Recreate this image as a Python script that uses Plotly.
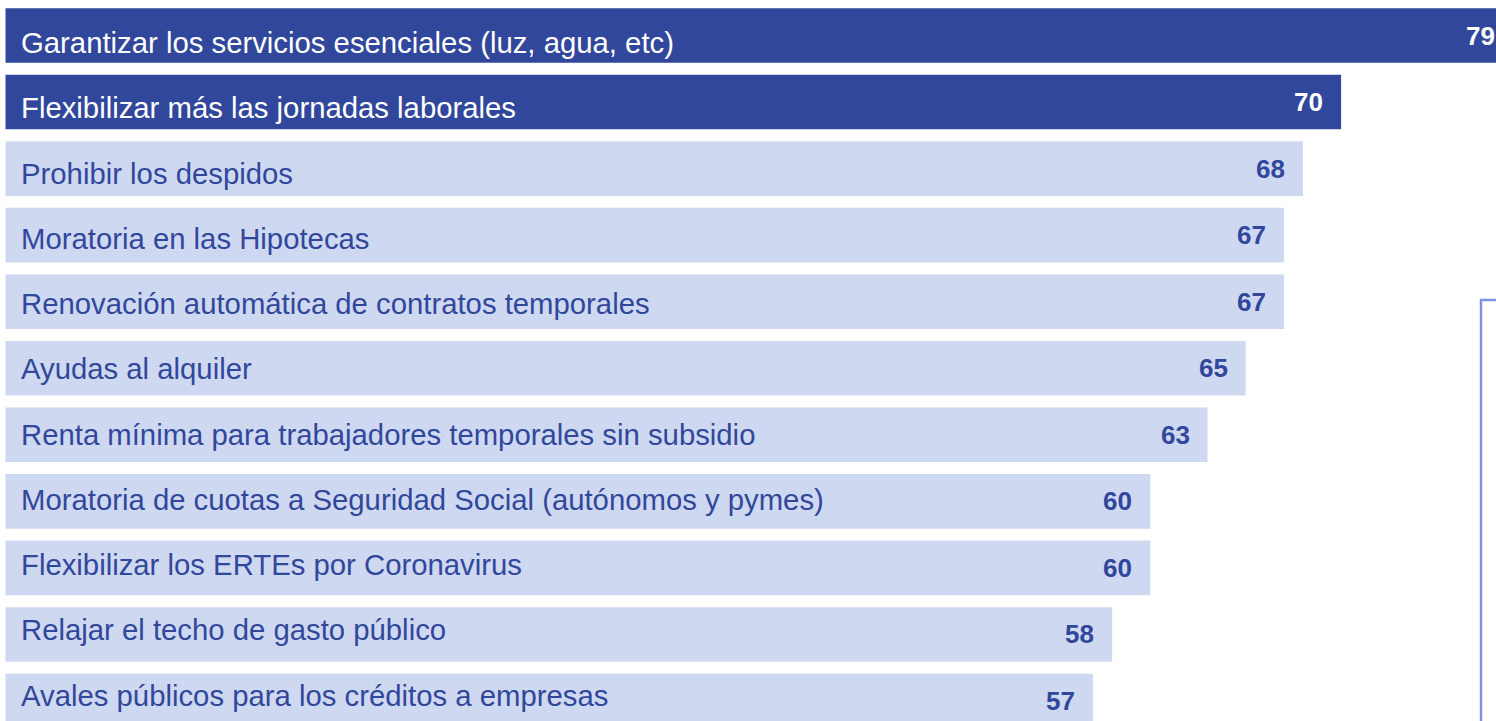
import plotly.graph_objects as go

categories = [
    "Garantizar los servicios esenciales (luz, agua, etc)",
    "Flexibilizar más las jornadas laborales",
    "Prohibir los despidos",
    "Moratoria en las Hipotecas",
    "Renovación automática de contratos temporales",
    "Ayudas al alquiler",
    "Renta mínima para trabajadores temporales sin subsidio",
    "Moratoria de cuotas a Seguridad Social (autónomos y pymes)",
    "Flexibilizar los ERTEs por Coronavirus",
    "Relajar el techo de gasto público",
    "Avales públicos para los créditos a empresas",
]
values = [79, 70, 68, 67, 67, 65, 63, 60, 60, 58, 57]

DARK = "#31479B"
LIGHT = "#CFD8F1"
n_dark = 2

bar_colors = [DARK if i < n_dark else LIGHT for i in range(len(values))]
text_colors = ["#FFFFFF" if i < n_dark else DARK for i in range(len(values))]
idx = list(range(len(values)))

W, H = 1520, 740  # page clips at 1496x721, as in the reference
PX_PER_UNIT = 19.08
X0_PX = 5.5
PITCH = 66.55
Y0_PX = 35.5

fig = go.Figure(go.Bar(
    x=values, y=idx, orientation="h",
    marker=dict(color=bar_colors, line=dict(width=0)),
    width=0.82, hoverinfo="skip",
))

FONT = "Liberation Sans, Arial, sans-serif"
annotations = []
for i, (c, v) in enumerate(zip(categories, values)):
    annotations.append(dict(
        x=0, y=i, xref="x", yref="y", text=c, showarrow=False,
        xanchor="left", yanchor="middle", xshift=13, yshift=-(7.0 - 1.3 * i),
        font=dict(family=FONT, size=29.3, color=text_colors[i]),
    ))
    annotations.append(dict(
        x=v, y=i, xref="x", yref="y", text=f"<b>{v}</b>", showarrow=False,
        xanchor="right", yanchor="middle", xshift=-16,
        font=dict(family=FONT, size=26, color=text_colors[i]),
    ))

fig.update_layout(
    width=W, height=H,
    margin=dict(l=0, r=0, t=0, b=0),
    paper_bgcolor="white", plot_bgcolor="white",
    showlegend=False,
    xaxis=dict(range=[-X0_PX / PX_PER_UNIT, (W - X0_PX) / PX_PER_UNIT], visible=False, fixedrange=True),
    yaxis=dict(range=[(H - Y0_PX) / PITCH, -Y0_PX / PITCH], visible=False, fixedrange=True),
    annotations=annotations,
    shapes=[dict(
        type="rect", xref="paper", yref="paper",
        x0=1481 / W, x1=1.1, y0=-0.1, y1=1 - 300 / H,
        line=dict(color="#7D92E2", width=2.4), fillcolor="rgba(0,0,0,0)",
    )],
)

fig.write_html(
    "out.html",
    config={"displayModeBar": False},
    post_script="document.body.style.margin='0';document.body.style.overflow='hidden';",
)
